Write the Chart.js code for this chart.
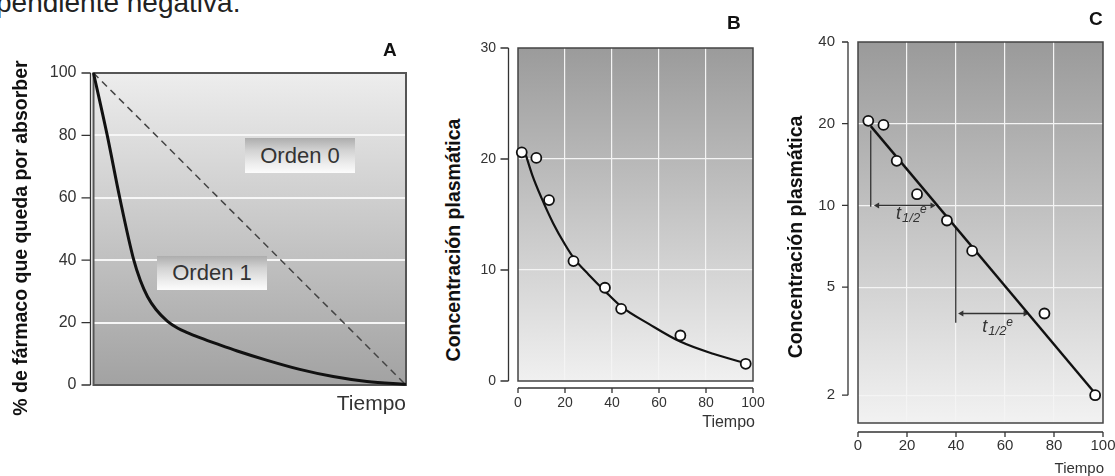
<!DOCTYPE html>
<html>
<head>
<meta charset="utf-8">
<script src="https://cdn.jsdelivr.net/npm/chart.js@4.4.1/dist/chart.umd.min.js"></script>
<style>
body { margin: 0; background: #fff; }
#page { position: relative; width: 1115px; height: 476px; overflow: hidden; font-family: "Liberation Sans", Arial, sans-serif; color: #222; }
canvas { position: absolute; }
.t { position: absolute; white-space: nowrap; }
.letter { position: absolute; font-weight: bold; font-size: 19px; line-height: 19px; color: #111; }
.ytitle { position: absolute; width: 400px; height: 20px; text-align: center; font-weight: bold; font-size: 19.5px; line-height: 20px; color: #111; transform: rotate(-90deg); white-space: nowrap; }
.box { position: absolute; width: 110px; text-align: center; font-size: 22px; color: #333; background: linear-gradient(#adadad, #d2d2d2 35%, #eeeeee 75%, #fcfcfc); }
</style>
</head>
<body>
<div id="page">
  <div class="t" style="left:-4px; top:-11px; font-size:28px; line-height:28px; color:#222;">pendiente negativa.</div>

  <canvas id="chartA" width="420" height="420" style="left:0; top:30px;"></canvas>
  <canvas id="chartB" width="300" height="440" style="left:470px; top:0;"></canvas>
  <canvas id="chartC" width="315" height="476" style="left:800px; top:0;"></canvas>

  <div class="letter" style="left:383px; top:40px;">A</div>
  <div class="letter" style="left:727px; top:13px;">B</div>
  <div class="letter" style="left:1089px; top:9px;">C</div>

  <div class="ytitle" style="left:-180px; top:228px;">% de fármaco que queda por absorber</div>
  <div class="ytitle" style="left:253px; top:230px;">Concentración plasmática</div>
  <div class="ytitle" style="left:595px; top:227px;">Concentración plasmática</div>

  <div class="t" style="right:709px; top:392px; font-size:21px; line-height:21px; color:#333;">Tiempo</div>
  <div class="t" style="right:360px; top:414px; font-size:16px; line-height:16px; color:#333;">Tiempo</div>
  <div class="t" style="right:11px; top:460px; font-size:15px; line-height:15px; color:#333;">Tiempo</div>

  <div class="box" style="left:245px; top:138px; height:35px; line-height:35px;">Orden 0</div>
  <div class="box" style="left:157px; top:256px; height:34px; line-height:34px;">Orden 1</div>
</div>

<script>
// Panel A - % remaining to absorb
var yTicksA = [0, 20, 40, 60, 80, 100];
var orden1X = [0, 4.4, 8.4, 12.9, 15, 17.3, 20, 23.6, 27, 30, 34, 40, 46, 55.6, 66, 76.7, 87.5, 100];
var orden1Y = [100, 80, 60, 40, 33.5, 28.3, 24.2, 20.5, 18.2, 16.8, 15.2, 13, 10.9, 7.9, 5.0, 2.7, 1.1, 0.2];
var orden0X = [0, 100];
var orden0Y = [100, 0];

// Panel B - plasma concentration, linear
var xTicks = [0, 20, 40, 60, 80, 100];
var yTicksB = [0, 10, 20, 30];
var pointsBX = [1.6, 7.8, 13.2, 23.6, 37, 43.9, 69.1, 96.9];
var pointsBY = [20.6, 20.1, 16.3, 10.8, 8.4, 6.5, 4.1, 1.55];
var curveBX = [3, 6, 10, 15, 20, 24, 30, 37, 44, 56, 69, 83, 97];
var curveBY = [20.6, 18.6, 16.5, 14.2, 12.3, 11.0, 9.6, 8.1, 6.7, 5.1, 3.55, 2.45, 1.6];

// Panel C - plasma concentration, log
var yTicksC = [2, 5, 10, 20, 40];
var pointsCX = [4.2, 10.4, 15.8, 24.1, 36.3, 46.6, 76.1, 96.8];
var pointsCY = [20.5, 19.8, 14.6, 11.0, 8.8, 6.8, 4.0, 2.0];
var fitCX = [5.2, 96.4];
var fitCY = [19.6, 2.05];
var halfLifeDropX = [5.2, 39.9];
var halfLifeDropTop = [18.9, 8.3];
var halfLifeDropBottom = [9.9, 3.7];
var halfLifeArrowFrom = [7.9, 42.3];
var halfLifeArrowTo = [30.3, 68.3];
var halfLifeArrowY = [10, 4.0];
var halfLifeLabelX = [21.6, 56.8];
var halfLifeLabelY = [8.9, 3.43];

Chart.defaults.font.family = '"Liberation Sans", Arial, sans-serif';
Chart.defaults.color = '#333';

function pts(xs, ys) {
    return xs.map(function(x, i) { return {x: x, y: ys[i]}; });
}

// fixed scale sizes, no automatic label padding
function fixWidth(w) {
    return function(s) { s.width = w; s.paddingTop = 0; s.paddingBottom = 0; };
}
function fixHeight(h) {
    return function(s) { s.height = h; s.paddingLeft = 0; s.paddingRight = 0; };
}

var panelPlugin = {
    id: 'panel',
    beforeDraw: function(chart, args, o) {
        var ctx = chart.ctx, a = chart.chartArea;
        var g = ctx.createLinearGradient(0, a.top, 0, a.bottom);
        g.addColorStop(0, o.bgTop);
        g.addColorStop(1, o.bgBottom);
        ctx.save();
        ctx.fillStyle = g;
        ctx.fillRect(a.left, a.top, a.right - a.left, a.bottom - a.top);
        ctx.restore();
    },
    beforeDatasetsDraw: function(chart, args, o) {
        var ctx = chart.ctx, a = chart.chartArea;
        ctx.save();
        ctx.strokeStyle = o.frame;
        ctx.lineWidth = o.frameWidth;
        ctx.strokeRect(a.left, a.top, a.right - a.left, a.bottom - a.top);

        ctx.strokeStyle = '#333';
        ctx.lineWidth = 1.3;
        var ys = chart.scales.y;
        var yp = ys.ticks.map(function(t) { return ys.getPixelForValue(t.value); });
        var ax = a.left - o.yGap;
        ctx.beginPath();
        ctx.moveTo(ax, Math.min.apply(null, yp));
        ctx.lineTo(ax, Math.max.apply(null, yp));
        yp.forEach(function(p) { ctx.moveTo(ax - o.yTick, p); ctx.lineTo(ax, p); });
        ctx.stroke();

        if (o.xGap != null) {
            var xs = chart.scales.x;
            var xp = xs.ticks.map(function(t) { return xs.getPixelForValue(t.value); });
            var ay = a.bottom + o.xGap;
            ctx.beginPath();
            ctx.moveTo(Math.min.apply(null, xp), ay);
            ctx.lineTo(Math.max.apply(null, xp), ay);
            xp.forEach(function(p) { ctx.moveTo(p, ay); ctx.lineTo(p, ay + o.xTick); });
            ctx.stroke();
        }
        ctx.restore();
    }
};

var halfLifeLabels = {
    id: 'halfLife',
    afterDatasetsDraw: function(chart) {
        var ctx = chart.ctx, x = chart.scales.x, y = chart.scales.y;
        var fT = 'italic 18px "Liberation Sans", Arial';
        var fSub = 'italic 13px "Liberation Sans", Arial';
        var fSup = 'italic 12px "Liberation Sans", Arial';
        ctx.save();
        ctx.fillStyle = '#333';
        ctx.textBaseline = 'alphabetic';
        halfLifeLabelX.forEach(function(vx, i) {
            var px = x.getPixelForValue(vx), py = y.getPixelForValue(halfLifeLabelY[i]);
            ctx.font = fT;
            var w1 = ctx.measureText('t').width;
            ctx.font = fSub;
            var w2 = ctx.measureText('1/2').width;
            ctx.font = fSup;
            var w3 = ctx.measureText('e').width;
            var sx = px - (w1 + w2 + w3) / 2;
            ctx.font = fT;
            ctx.fillText('t', sx, py);
            ctx.font = fSub;
            ctx.fillText('1/2', sx + w1 + 1, py + 3);
            ctx.font = fSup;
            ctx.fillText('e', sx + w1 + w2 + 1, py - 6);
        });
        ctx.restore();
    }
};

function interiorGrid(lo, hi, color) {
    return function(c) {
        var v = c.tick ? c.tick.value : null;
        return (v > lo && v < hi) ? color : 'rgba(0,0,0,0)';
    };
}

// ---- A ----
new Chart(document.getElementById('chartA').getContext('2d'), {
    type: 'scatter',
    data: {
        datasets: [
            {
                data: pts(orden1X, orden1Y),
                showLine: true,
                borderColor: '#111',
                borderWidth: 3,
                pointRadius: 0,
                cubicInterpolationMode: 'monotone',
                clip: false
            },
            {
                data: pts(orden0X, orden0Y),
                showLine: true,
                borderColor: '#444',
                borderWidth: 1.5,
                borderDash: [7, 5],
                pointRadius: 0
            }
        ]
    },
    options: {
        responsive: false,
        animation: false,
        layout: { autoPadding: false, padding: { left: 0, top: 43, right: 14, bottom: 65 } },
        plugins: {
            legend: { display: false },
            tooltip: { enabled: false },
            panel: { bgTop: '#ededed', bgBottom: '#a2a2a2', frame: '#555', frameWidth: 2, yGap: 3, yTick: 9 }
        },
        scales: {
            x: { type: 'linear', min: 0, max: 100, display: false },
            y: {
                type: 'linear', min: 0, max: 100,
                afterBuildTicks: function(s) { s.ticks = yTicksA.map(function(v) { return {value: v}; }); },
                afterFit: fixWidth(93.5),
                ticks: { padding: 17, font: { size: 16 }, color: '#333' },
                grid: { color: interiorGrid(0, 100, '#f6f6f6'), lineWidth: 2, drawTicks: false },
                border: { display: false }
            }
        }
    },
    plugins: [panelPlugin]
});

// ---- B ----
new Chart(document.getElementById('chartB').getContext('2d'), {
    type: 'scatter',
    data: {
        datasets: [
            {
                data: pts(pointsBX, pointsBY),
                pointRadius: 5,
                pointBorderWidth: 1.8,
                pointBackgroundColor: '#fff',
                pointBorderColor: '#111',
                clip: false,
                order: 0
            },
            {
                data: pts(curveBX, curveBY),
                showLine: true,
                borderColor: '#111',
                borderWidth: 2.2,
                pointRadius: 0,
                cubicInterpolationMode: 'monotone',
                order: 1
            }
        ]
    },
    options: {
        responsive: false,
        animation: false,
        layout: { autoPadding: false, padding: { left: 0, top: 48, right: 17, bottom: 0 } },
        plugins: {
            legend: { display: false },
            tooltip: { enabled: false },
            panel: { bgTop: '#9b9b9b', bgBottom: '#f0f0f0', frame: '#444', frameWidth: 1.5, yGap: 9.5, yTick: 8, xGap: 7, xTick: 5 }
        },
        scales: {
            x: {
                type: 'linear', min: 0, max: 100,
                afterBuildTicks: function(s) { s.ticks = xTicks.map(function(v) { return {value: v}; }); },
                afterFit: fixHeight(59),
                ticks: { padding: 14, font: { size: 14 }, color: '#333', maxRotation: 0 },
                grid: { color: interiorGrid(0, 100, '#f4f4f4'), lineWidth: 1.2, drawTicks: false },
                border: { display: false }
            },
            y: {
                type: 'linear', min: 0, max: 30,
                afterBuildTicks: function(s) { s.ticks = yTicksB.map(function(v) { return {value: v}; }); },
                afterFit: fixWidth(48),
                ticks: { padding: 22, font: { size: 14 }, color: '#333' },
                grid: { color: interiorGrid(0, 30, '#f4f4f4'), lineWidth: 1.2, drawTicks: false },
                border: { display: false }
            }
        }
    },
    plugins: [panelPlugin]
});

// ---- C ----
var arrowSets = halfLifeArrowY.map(function(y, i) {
    return {
        data: [{x: halfLifeArrowFrom[i], y: y}, {x: halfLifeArrowTo[i], y: y}],
        showLine: true,
        borderColor: '#333',
        borderWidth: 1.3,
        pointStyle: 'triangle',
        pointRadius: 3.5,
        pointRotation: [270, 90],
        pointBackgroundColor: '#333',
        pointBorderColor: '#333',
        pointBorderWidth: 0,
        order: 2
    };
});
var dropSets = halfLifeDropX.map(function(x, i) {
    return {
        data: [{x: x, y: halfLifeDropTop[i]}, {x: x, y: halfLifeDropBottom[i]}],
        showLine: true,
        borderColor: '#333',
        borderWidth: 1.3,
        pointRadius: 0,
        order: 2
    };
});

new Chart(document.getElementById('chartC').getContext('2d'), {
    type: 'scatter',
    data: {
        datasets: [
            {
                data: pts(pointsCX, pointsCY),
                pointRadius: 5,
                pointBorderWidth: 1.8,
                pointBackgroundColor: '#fff',
                pointBorderColor: '#111',
                clip: false,
                order: 0
            },
            {
                data: pts(fitCX, fitCY),
                showLine: true,
                borderColor: '#111',
                borderWidth: 2.4,
                pointRadius: 0,
                order: 1
            }
        ].concat(arrowSets, dropSets)
    },
    options: {
        responsive: false,
        animation: false,
        layout: { autoPadding: false, padding: { left: 0, top: 42, right: 12, bottom: 0 } },
        plugins: {
            legend: { display: false },
            tooltip: { enabled: false },
            panel: { bgTop: '#9a9a9a', bgBottom: '#f2f2f2', frame: '#444', frameWidth: 1.5, yGap: 10, yTick: 6, xGap: 9, xTick: 5 }
        },
        scales: {
            x: {
                type: 'linear', min: 0, max: 100,
                afterBuildTicks: function(s) { s.ticks = xTicks.map(function(v) { return {value: v}; }); },
                afterFit: fixHeight(53),
                ticks: { padding: 14, font: { size: 15 }, color: '#333', maxRotation: 0 },
                grid: { color: interiorGrid(0, 100, '#f4f4f4'), lineWidth: 1.2, drawTicks: false },
                border: { display: false }
            },
            y: {
                type: 'logarithmic', min: 1.58, max: 40,
                afterBuildTicks: function(s) { s.ticks = yTicksC.map(function(v) { return {value: v}; }); },
                afterFit: fixWidth(58),
                ticks: { padding: 23, font: { size: 15 }, color: '#333', callback: function(v) { return String(v); } },
                grid: { color: interiorGrid(1.58, 40, '#f4f4f4'), lineWidth: 1.2, drawTicks: false },
                border: { display: false }
            }
        }
    },
    plugins: [panelPlugin, halfLifeLabels]
});
</script>
</body>
</html>
